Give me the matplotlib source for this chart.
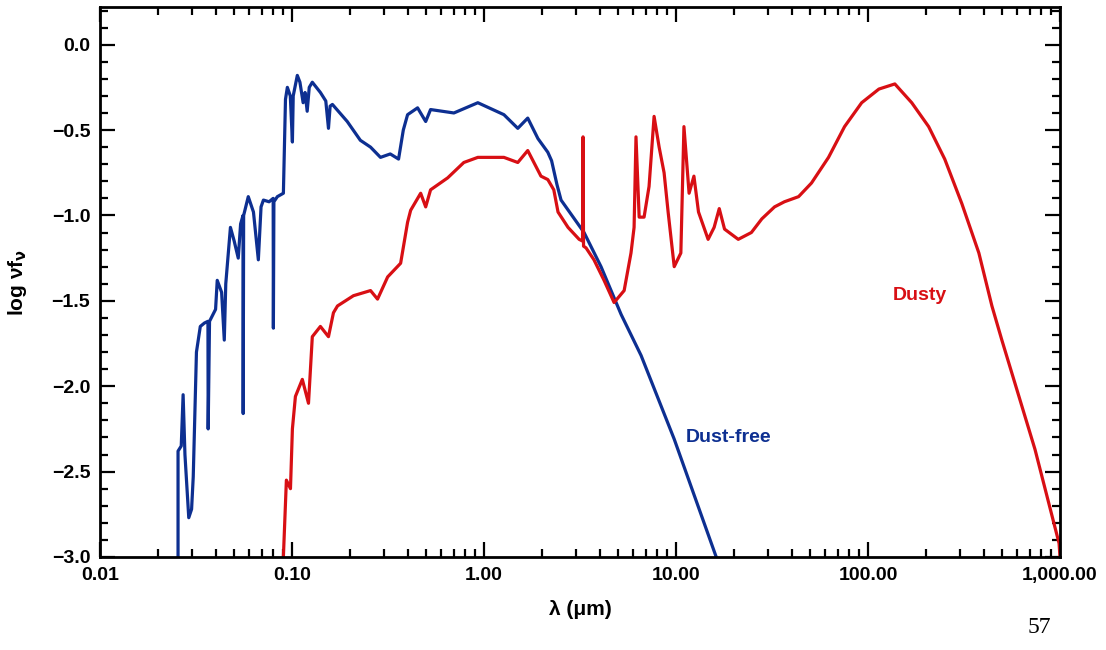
import matplotlib.pyplot as plt
from matplotlib.ticker import FixedLocator, MultipleLocator, LogLocator, NullFormatter
from matplotlib import font_manager

# dust-free SED (wavelength in micron, log nu f_nu)
wl_free = [0.0255, 0.0255, 0.0265, 0.0271, 0.0277, 0.0290, 0.0300, 0.0306,
           0.0318, 0.0333, 0.0350, 0.0365, 0.0366, 0.0372, 0.0400, 0.0408,
           0.0430, 0.0444, 0.0452, 0.0478, 0.0500, 0.0525, 0.0540, 0.0556,
           0.0557, 0.0560, 0.0592, 0.0630, 0.0668, 0.0690, 0.0710, 0.0760,
           0.0798, 0.0800, 0.0805, 0.0839, 0.0902, 0.0925, 0.0946, 0.0980,
           0.1005, 0.1015, 0.1066, 0.1100, 0.1143, 0.1170, 0.1200, 0.1230,
           0.1276, 0.1406, 0.1500, 0.1549, 0.1580, 0.1624, 0.194, 0.227,
           0.2565, 0.289, 0.325, 0.359, 0.380, 0.400, 0.451, 0.497, 0.527,
           0.697, 0.929, 1.27, 1.50, 1.69, 1.91, 2.15, 2.25, 2.40, 2.52,
           3.32, 4.07, 5.18, 6.58, 9.79, 16.2]
logf_free = [-3.00, -2.38, -2.35, -2.05, -2.40, -2.77, -2.72, -2.53,
             -1.80, -1.65, -1.63, -1.62, -2.25, -1.62, -1.55, -1.38,
             -1.45, -1.73, -1.40, -1.07, -1.15, -1.25, -1.05, -1.00,
             -2.16, -1.00, -0.89, -0.98, -1.26, -0.95, -0.91, -0.92,
             -0.90, -1.66, -0.92, -0.89, -0.87, -0.32, -0.25, -0.30,
             -0.57, -0.30, -0.18, -0.22, -0.34, -0.28, -0.39, -0.25,
             -0.22, -0.28, -0.33, -0.49, -0.36, -0.35, -0.45, -0.56,
             -0.60, -0.66, -0.64, -0.67, -0.50, -0.41, -0.37, -0.45, -0.38,
             -0.40, -0.34, -0.41, -0.49, -0.43, -0.55, -0.63, -0.68, -0.82,
             -0.91, -1.10, -1.30, -1.58, -1.82, -2.31, -3.00]

# dusty SED
wl_dusty = [0.0902, 0.0935, 0.0982, 0.1005, 0.1042, 0.1132, 0.1219, 0.1276,
            0.1406, 0.1549, 0.1644, 0.1726, 0.209, 0.2565, 0.279, 0.315,
            0.368, 0.400, 0.415, 0.468, 0.497, 0.527, 0.647, 0.785, 0.929,
            1.27, 1.50, 1.69, 1.98, 2.15, 2.31, 2.43, 2.74, 3.13, 3.26,
            3.28, 3.30, 3.40, 3.74, 4.22, 4.76, 5.37, 5.83, 6.05, 6.19,
            6.43, 6.82, 7.24, 7.69, 8.17, 8.67, 9.10, 9.79, 10.6, 11.0,
            11.7, 12.4, 13.1, 14.7, 15.8, 16.8, 17.9, 21.1, 24.7, 28.0,
            32.6, 36.7, 43.5, 50.8, 62.3, 75.5, 92.7, 114, 138, 169, 207,
            251, 308, 378, 442, 498, 741, 989, 1000]
logf_dusty = [-3.00, -2.55, -2.60, -2.25, -2.06, -1.96, -2.10, -1.71,
              -1.65, -1.71, -1.57, -1.53, -1.47, -1.44, -1.49, -1.36,
              -1.28, -1.04, -0.97, -0.87, -0.95, -0.85, -0.78, -0.69, -0.66,
              -0.66, -0.69, -0.62, -0.77, -0.79, -0.85, -0.98, -1.07, -1.14,
              -1.15, -0.54, -1.18, -1.19, -1.26, -1.38, -1.51, -1.44, -1.22,
              -1.07, -0.54, -1.01, -1.01, -0.83, -0.42, -0.60, -0.75, -0.98,
              -1.30, -1.22, -0.48, -0.87, -0.77, -0.98, -1.14, -1.07, -0.96,
              -1.08, -1.14, -1.10, -1.02, -0.95, -0.92, -0.89, -0.81, -0.66,
              -0.48, -0.34, -0.26, -0.23, -0.34, -0.48, -0.67, -0.93, -1.22,
              -1.53, -1.73, -2.37, -2.92, -3.00]

x_ticks = [0.01, 0.1, 1, 10, 100, 1000]
x_ticklabels = ["0.01", "0.10", "1.00", "10.00", "100.00", "1,000.00"]
y_ticks = [-3.0, -2.5, -2.0, -1.5, -1.0, -0.5, 0.0]
y_ticklabels = ["\u22123.0", "\u22122.5", "\u22122.0", "\u22121.5",
                "\u22121.0", "\u22120.5", "0.0"]

names = {f.name for f in font_manager.fontManager.ttflist}
narrow = "Liberation Sans Narrow" if "Liberation Sans Narrow" in names else "Liberation Sans"

blue = "#0d2f91"
red = "#d80f14"

fig = plt.figure(figsize=(11.06, 6.50), dpi=100)
ax = fig.add_axes([0.0904, 0.1431, 0.868, 0.846])

ax.plot(wl_free, logf_free, color=blue, lw=2.3, solid_joinstyle="round")
ax.plot(wl_dusty, logf_dusty, color=red, lw=2.3, solid_joinstyle="round")

ax.set_xscale("log")
ax.set_xlim(0.01, 1000)
ax.set_ylim(-3.0, 0.22)

ax.xaxis.set_major_locator(FixedLocator(x_ticks))
ax.set_xticklabels(x_ticklabels)
ax.xaxis.set_minor_locator(LogLocator(base=10, subs=range(2, 10), numticks=20))
ax.xaxis.set_minor_formatter(NullFormatter())
ax.set_yticks(y_ticks)
ax.set_yticklabels(y_ticklabels)
ax.yaxis.set_minor_locator(MultipleLocator(0.1))

ax.tick_params(which="both", direction="in", top=True, right=True, width=1.6)
ax.tick_params(which="major", length=11, pad=7)
ax.tick_params(which="minor", length=6)
for lab in ax.get_xticklabels() + ax.get_yticklabels():
    lab.set_fontfamily(narrow)
    lab.set_fontweight("bold")
    lab.set_fontsize(14)
for sp in ax.spines.values():
    sp.set_linewidth(2.0)

ax.set_xlabel("\u03bb (\u03bcm)", fontsize=15, fontweight="bold",
              family=narrow, labelpad=12)
ax.set_ylabel("log \u03bdf$_\\mathbf{\u03bd}$", fontsize=15, fontweight="bold",
              family=narrow, labelpad=16)

ax.text(11.3, -2.3, "Dust-free", color=blue, fontsize=14, fontweight="bold",
        family=narrow, ha="left", va="center")
ax.text(134, -1.47, "Dusty", color=red, fontsize=14, fontweight="bold",
        family=narrow, ha="left", va="center")

fig.text(0.929, 0.034, "57", fontsize=17, family="Liberation Serif",
         ha="left", va="center")

plt.savefig("out.png", dpi=100)
